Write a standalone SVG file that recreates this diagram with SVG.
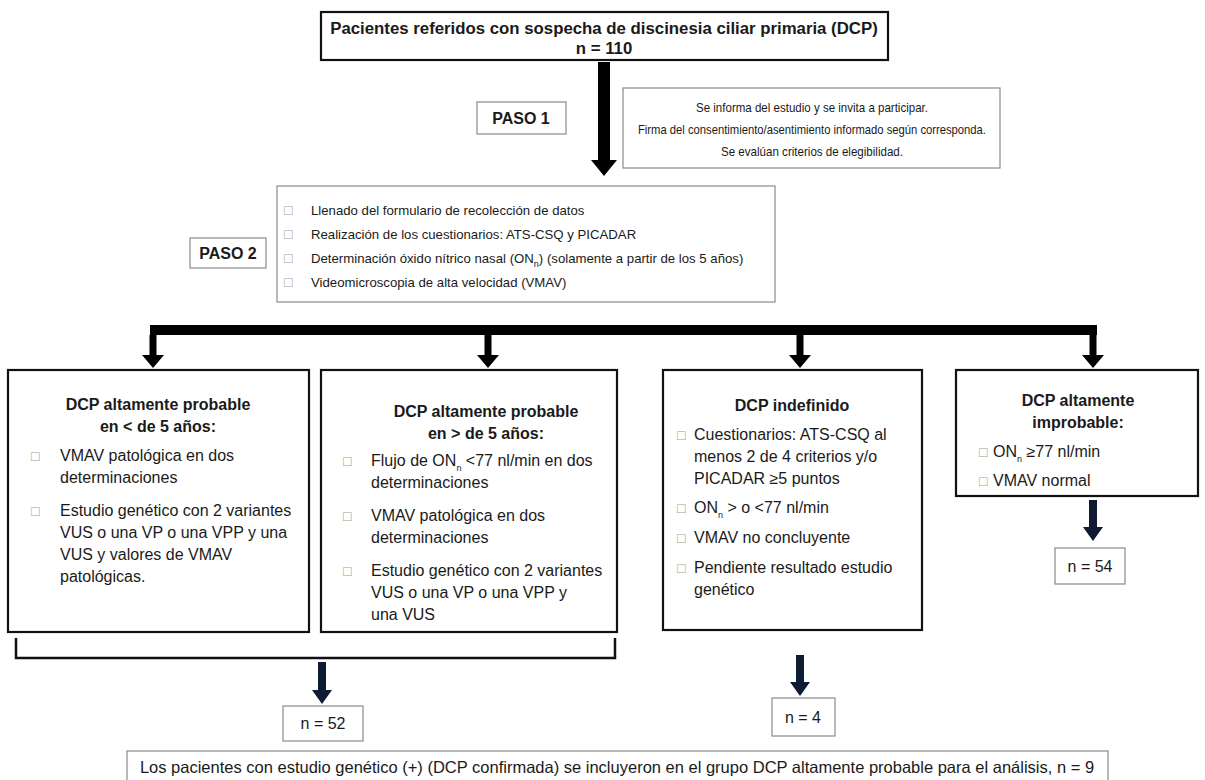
<svg xmlns="http://www.w3.org/2000/svg" width="1205" height="780" viewBox="0 0 1205 780">
<style>
text{font-family:"Liberation Sans",Arial,sans-serif;fill:#1a1a1a}
.b{font-weight:bold}
.c{text-anchor:middle}
.t16{font-size:16px}
.t13{font-size:13.2px}
.inf{font-size:13px}
.bul{font-size:14px;fill:#9a9a9a}
.sub{font-size:9px}
.thin{fill:#fff;stroke:#8a8a8a;stroke-width:1.2}
.thick{fill:#fff;stroke:#111;stroke-width:2.2}
.arr{fill:#000}
.navy{fill:#0f1a33}
</style>
<g id="connectors">
<polygon class="arr" points="598,62 610,62 610,160 617,160 604,176 591,160 598,160"/>
<rect class="arr" x="150" y="325" width="947" height="10"/>
<polygon class="arr" points="149.5,335 156.5,335 156.5,355 164,355 153,368 142,355 149.5,355"/>
<polygon class="arr" points="484.5,335 491.5,335 491.5,355 499,355 488,368 477,355 484.5,355"/>
<polygon class="arr" points="796.5,335 803.5,335 803.5,355 811,355 800,368 789,355 796.5,355"/>
<polygon class="arr" points="1089.5,335 1096.5,335 1096.5,355 1104,355 1093,368 1082,355 1089.5,355"/>
<path d="M16 638 V658 H615 V638" fill="none" stroke="#111" stroke-width="2.5"/>
<polygon class="navy" points="318,662 326,662 326,690 332,690 322,704 312,690 318,690"/>
<polygon class="navy" points="796,655 804,655 804,682 810,682 800,696 790,682 796,682"/>
<polygon class="navy" points="1089,500 1097,500 1097,527 1103,527 1093,541 1083,527 1089,527"/>
</g>
<g id="n-top">
<rect class="thick" x="321" y="12" width="567" height="48"/>
<text class="b c" font-size="16.8" x="604" y="34">Pacientes referidos con sospecha de discinesia ciliar primaria (DCP)</text>
<text class="b c" font-size="16.8" x="604" y="54">n = 110</text>
</g>
<g id="n-paso1">
<rect class="thin" x="477" y="102" width="89" height="32"/>
<text class="b c t16" x="521" y="124">PASO 1</text>
</g>
<g id="n-info">
<rect class="thin" x="623" y="88" width="377" height="80"/>
<text class="c inf" x="812" y="112" textLength="232" lengthAdjust="spacingAndGlyphs">Se informa del estudio y se invita a participar.</text>
<text class="c inf" x="812" y="134" textLength="348" lengthAdjust="spacingAndGlyphs">Firma del consentimiento/asentimiento informado según corresponda.</text>
<text class="c inf" x="812" y="156" textLength="182" lengthAdjust="spacingAndGlyphs">Se evalúan criterios de elegibilidad.</text>
</g>
<g id="n-paso2">
<rect class="thin" x="190" y="238" width="76" height="30"/>
<text class="b c t16" x="228" y="259">PASO 2</text>
</g>
<g id="n-step2">
<rect class="thin" x="277" y="186" width="498" height="116"/>
<text class="bul" x="284" y="215">□</text>
<text class="t13" x="311" y="215">Llenado del formulario de recolección de datos</text>
<text class="bul" x="284" y="239">□</text>
<text class="t13" x="311" y="239">Realización de los cuestionarios: ATS-CSQ y PICADAR</text>
<text class="bul" x="284" y="263">□</text>
<text class="t13" x="311" y="263">Determinación óxido nítrico nasal (ON<tspan class="sub" dy="4">n</tspan><tspan dy="-4">) (solamente a partir de los 5 años)</tspan></text>
<text class="bul" x="284" y="287">□</text>
<text class="t13" x="311" y="287">Videomicroscopia de alta velocidad (VMAV)</text>
</g>
<g id="n-a">
<rect class="thick" x="8" y="370" width="301" height="262"/>
<text class="b c t16" x="158" y="410">DCP altamente probable</text>
<text class="b c t16" x="158" y="432">en &lt; de 5 años:</text>
<text class="bul" x="31" y="461">□</text>
<text class="t16" x="60" y="461">VMAV patológica en dos</text>
<text class="t16" x="60" y="483">determinaciones</text>
<text class="bul" x="31" y="516">□</text>
<text class="t16" x="60" y="516">Estudio genético con 2 variantes</text>
<text class="t16" x="60" y="538">VUS o una VP o una VPP y una</text>
<text class="t16" x="60" y="560">VUS y valores de VMAV</text>
<text class="t16" x="60" y="582">patológicas.</text>
</g>
<g id="n-b">
<rect class="thick" x="321" y="370" width="296" height="262"/>
<text class="b c t16" x="486" y="417">DCP altamente probable</text>
<text class="b c t16" x="486" y="439">en &gt; de 5 años:</text>
<text class="bul" x="343" y="466">□</text>
<text class="t16" x="371" y="466">Flujo de ON<tspan class="sub" dy="5">n</tspan><tspan dy="-5"> &lt;77 nl/min en dos</tspan></text>
<text class="t16" x="371" y="488">determinaciones</text>
<text class="bul" x="343" y="521">□</text>
<text class="t16" x="371" y="521">VMAV patológica en dos</text>
<text class="t16" x="371" y="543">determinaciones</text>
<text class="bul" x="343" y="576">□</text>
<text class="t16" x="371" y="576">Estudio genético con 2 variantes</text>
<text class="t16" x="371" y="598">VUS o una VP o una VPP y</text>
<text class="t16" x="371" y="620">una VUS</text>
</g>
<g id="n-c">
<rect class="thick" x="663" y="370" width="259" height="260"/>
<text class="b c t16" x="792" y="411">DCP indefinido</text>
<text class="bul" x="677" y="440">□</text>
<text class="t16" x="694" y="440">Cuestionarios: ATS-CSQ al</text>
<text class="t16" x="694" y="462">menos 2 de 4 criterios y/o</text>
<text class="t16" x="694" y="484">PICADAR ≥5 puntos</text>
<text class="bul" x="677" y="513">□</text>
<text class="t16" x="694" y="513">ON<tspan class="sub" dy="5">n</tspan><tspan dy="-5"> &gt; o &lt;77 nl/min</tspan></text>
<text class="bul" x="677" y="543">□</text>
<text class="t16" x="694" y="543">VMAV no concluyente</text>
<text class="bul" x="677" y="573">□</text>
<text class="t16" x="694" y="573">Pendiente resultado estudio</text>
<text class="t16" x="694" y="595">genético</text>
</g>
<g id="n-d">
<rect class="thick" x="956" y="370" width="242" height="126"/>
<text class="b c t16" x="1078" y="406">DCP altamente</text>
<text class="b c t16" x="1078" y="428">improbable:</text>
<text class="bul" x="979" y="457">□</text>
<text class="t16" x="993" y="457">ON<tspan class="sub" dy="5">n</tspan><tspan dy="-5"> ≥77 nl/min</tspan></text>
<text class="bul" x="979" y="486">□</text>
<text class="t16" x="993" y="486">VMAV normal</text>
</g>
<g id="n-54">
<rect class="thin" x="1055" y="548" width="70" height="36"/>
<text class="c t16" x="1090" y="572">n = 54</text>
</g>
<g id="n-52">
<rect class="thin" x="283" y="706" width="80" height="35"/>
<text class="c t16" x="323" y="729">n = 52</text>
</g>
<g id="n-4">
<rect class="thin" x="772" y="698" width="63" height="38"/>
<text class="c t16" x="803" y="723">n = 4</text>
</g>
<g id="n-bottom">
<rect class="thin" x="127" y="751" width="981" height="35"/>
<text class="c" font-size="16.5" x="617" y="773">Los pacientes con estudio genético (+) (DCP confirmada) se incluyeron en el grupo DCP altamente probable para el análisis, n = 9</text>
</g>
</svg>
